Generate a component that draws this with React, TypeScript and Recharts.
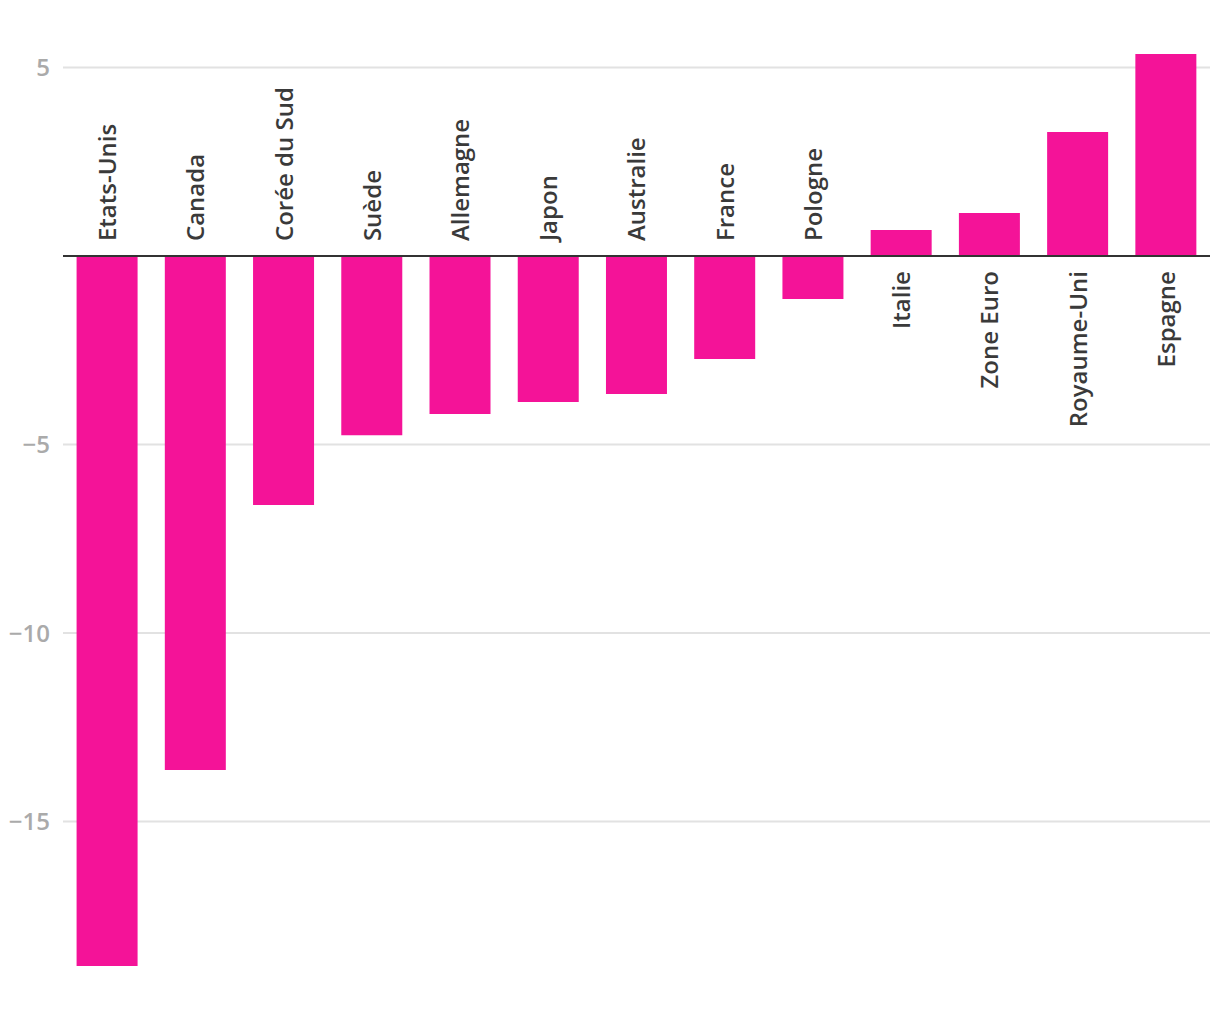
import { BarChart, Bar, YAxis, XAxis, CartesianGrid, ReferenceLine, LabelList } from "recharts";

const countries = [
  "Etats-Unis",
  "Canada",
  "Corée du Sud",
  "Suède",
  "Allemagne",
  "Japon",
  "Australie",
  "France",
  "Pologne",
  "Italie",
  "Zone Euro",
  "Royaume-Uni",
  "Espagne",
];
const values = [-18.83, -13.63, -6.6, -4.75, -4.19, -3.87, -3.66, -2.73, -1.14, 0.69, 1.14, 3.29, 5.36];
const yTicks = [-15, -10, -5, 0, 5];

const data = countries.map((name, i) => ({ name, value: values[i] }));

const FONT = "'Open Sans', sans-serif";

const formatTick = (v: number) => (v === 0 ? "" : v < 0 ? "\u2212" + Math.abs(v) : String(v));

// country name sits on the other side of the zero line from the bar
const CountryLabel = (props: any) => {
  const { x, y, width, height, value, index } = props;
  const top = Math.min(y, y + height);
  const bottom = Math.max(y, y + height);
  const cx = x + width / 2;
  const neg = value < 0;
  const zeroY = neg ? top : bottom;
  const ty = neg ? zeroY - 15 : zeroY + 15;
  return (
    <text
      transform={`translate(${cx + 9}, ${ty}) rotate(-90)`}
      textAnchor={neg ? "start" : "end"}
      fontSize={24}
      fontWeight={600}
      fontFamily={FONT}
      fill="#3a3a3a"
    >
      {countries[index]}
    </text>
  );
};

export default function App() {
  return (
    <div style={{ width: 1204, height: 1000 }}>
      <BarChart
        width={1204}
        height={1000}
        data={data}
        margin={{ top: 46, right: 2, bottom: 42, left: 0 }}
        barCategoryGap="15.4%"
      >
        <CartesianGrid vertical={false} horizontalValues={yTicks} stroke="#e2e2e2" strokeWidth={2} />
        <XAxis dataKey="name" hide />
        <YAxis
          width={55}
          domain={[-18.83, 5.36]}
          ticks={yTicks}
          tickFormatter={formatTick}
          axisLine={false}
          tickLine={false}
          tickSize={0}
          tickMargin={13}
          tick={{ fill: "#aaa", fontSize: 24, fontWeight: 600, fontFamily: FONT }}
        />
        <Bar dataKey="value" fill="#f41398" isAnimationActive={false}>
          <LabelList dataKey="value" content={CountryLabel} />
        </Bar>
        <ReferenceLine y={0} stroke="#333" strokeWidth={2} />
      </BarChart>
    </div>
  );
}
